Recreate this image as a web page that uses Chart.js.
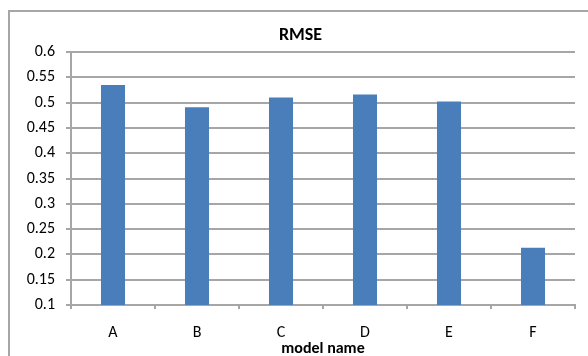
<!DOCTYPE html>
<html>
<head>
<meta charset="utf-8">
<script src="https://cdn.jsdelivr.net/npm/chart.js@4"></script>
<style>
  html, body { margin: 0; padding: 0; background: #fff; }
  #wrap { position: relative; width: 588px; height: 356px; overflow: hidden; }
  #frame { position: absolute; left: 8px; top: 10px; width: 620px; height: 400px; border: 2px solid #a6a6a6; box-sizing: border-box; }
  #chart { position: absolute; left: 0; top: 0; }
</style>
</head>
<body>
<div id="wrap">
  <div id="frame"></div>
  <canvas id="chart" width="588" height="356"></canvas>
</div>
<script>
const models = ['A', 'B', 'C', 'D', 'E', 'F'];
const rmse = [0.535, 0.491, 0.510, 0.516, 0.502, 0.213];
const yMin = 0.1;
const yMax = 0.6;
const yStep = 0.05;

const gridColor = '#a6a6a6';
const font = 'Calibri, Carlito, "Liberation Sans", Arial, sans-serif';

new Chart(document.getElementById('chart'), {
    type: 'bar',
    data: {
        labels: models,
        datasets: [{
            label: 'RMSE',
            data: rmse,
            backgroundColor: '#4a7ebb',
            borderWidth: 0,
            barPercentage: 0.286,
            categoryPercentage: 1
        }]
    },
    options: {
        responsive: false,
        animation: false,
        layout: { padding: { left: 26, right: 13, top: 0, bottom: 0 } },
        plugins: {
            legend: { display: false },
            tooltip: { enabled: false },
            title: {
                display: true,
                text: 'RMSE',
                color: '#000',
                font: { family: font, size: 18, weight: 'bold' },
                lineHeight: 1.2,
                padding: { top: 25, bottom: 5.4 }
            }
        },
        scales: {
            x: {
                grid: {
                    display: true,
                    drawOnChartArea: false,
                    drawTicks: true,
                    tickLength: 4,
                    color: gridColor,
                    lineWidth: 2,
                    offset: true
                },
                border: { color: gridColor, width: 2 },
                ticks: {
                    color: '#000',
                    font: { family: font, size: 16 },
                    padding: 14
                },
                title: {
                    display: true,
                    text: 'model name',
                    color: '#000',
                    font: { family: font, size: 16, weight: 'bold' },
                    padding: { top: 0, bottom: -3 }
                },
                afterFit: (scale) => { scale.height = 51; }
            },
            y: {
                min: yMin,
                max: yMax,
                grid: {
                    color: gridColor,
                    lineWidth: 2,
                    tickLength: 5
                },
                border: { color: gridColor, width: 2 },
                ticks: {
                    stepSize: yStep,
                    color: '#000',
                    font: { family: font, size: 16 },
                    padding: 11,
                    callback: (v) => parseFloat(v.toFixed(2)).toString()
                },
                afterFit: (scale) => { scale.width = 45; }
            }
        }
    }
});
</script>
</body>
</html>
